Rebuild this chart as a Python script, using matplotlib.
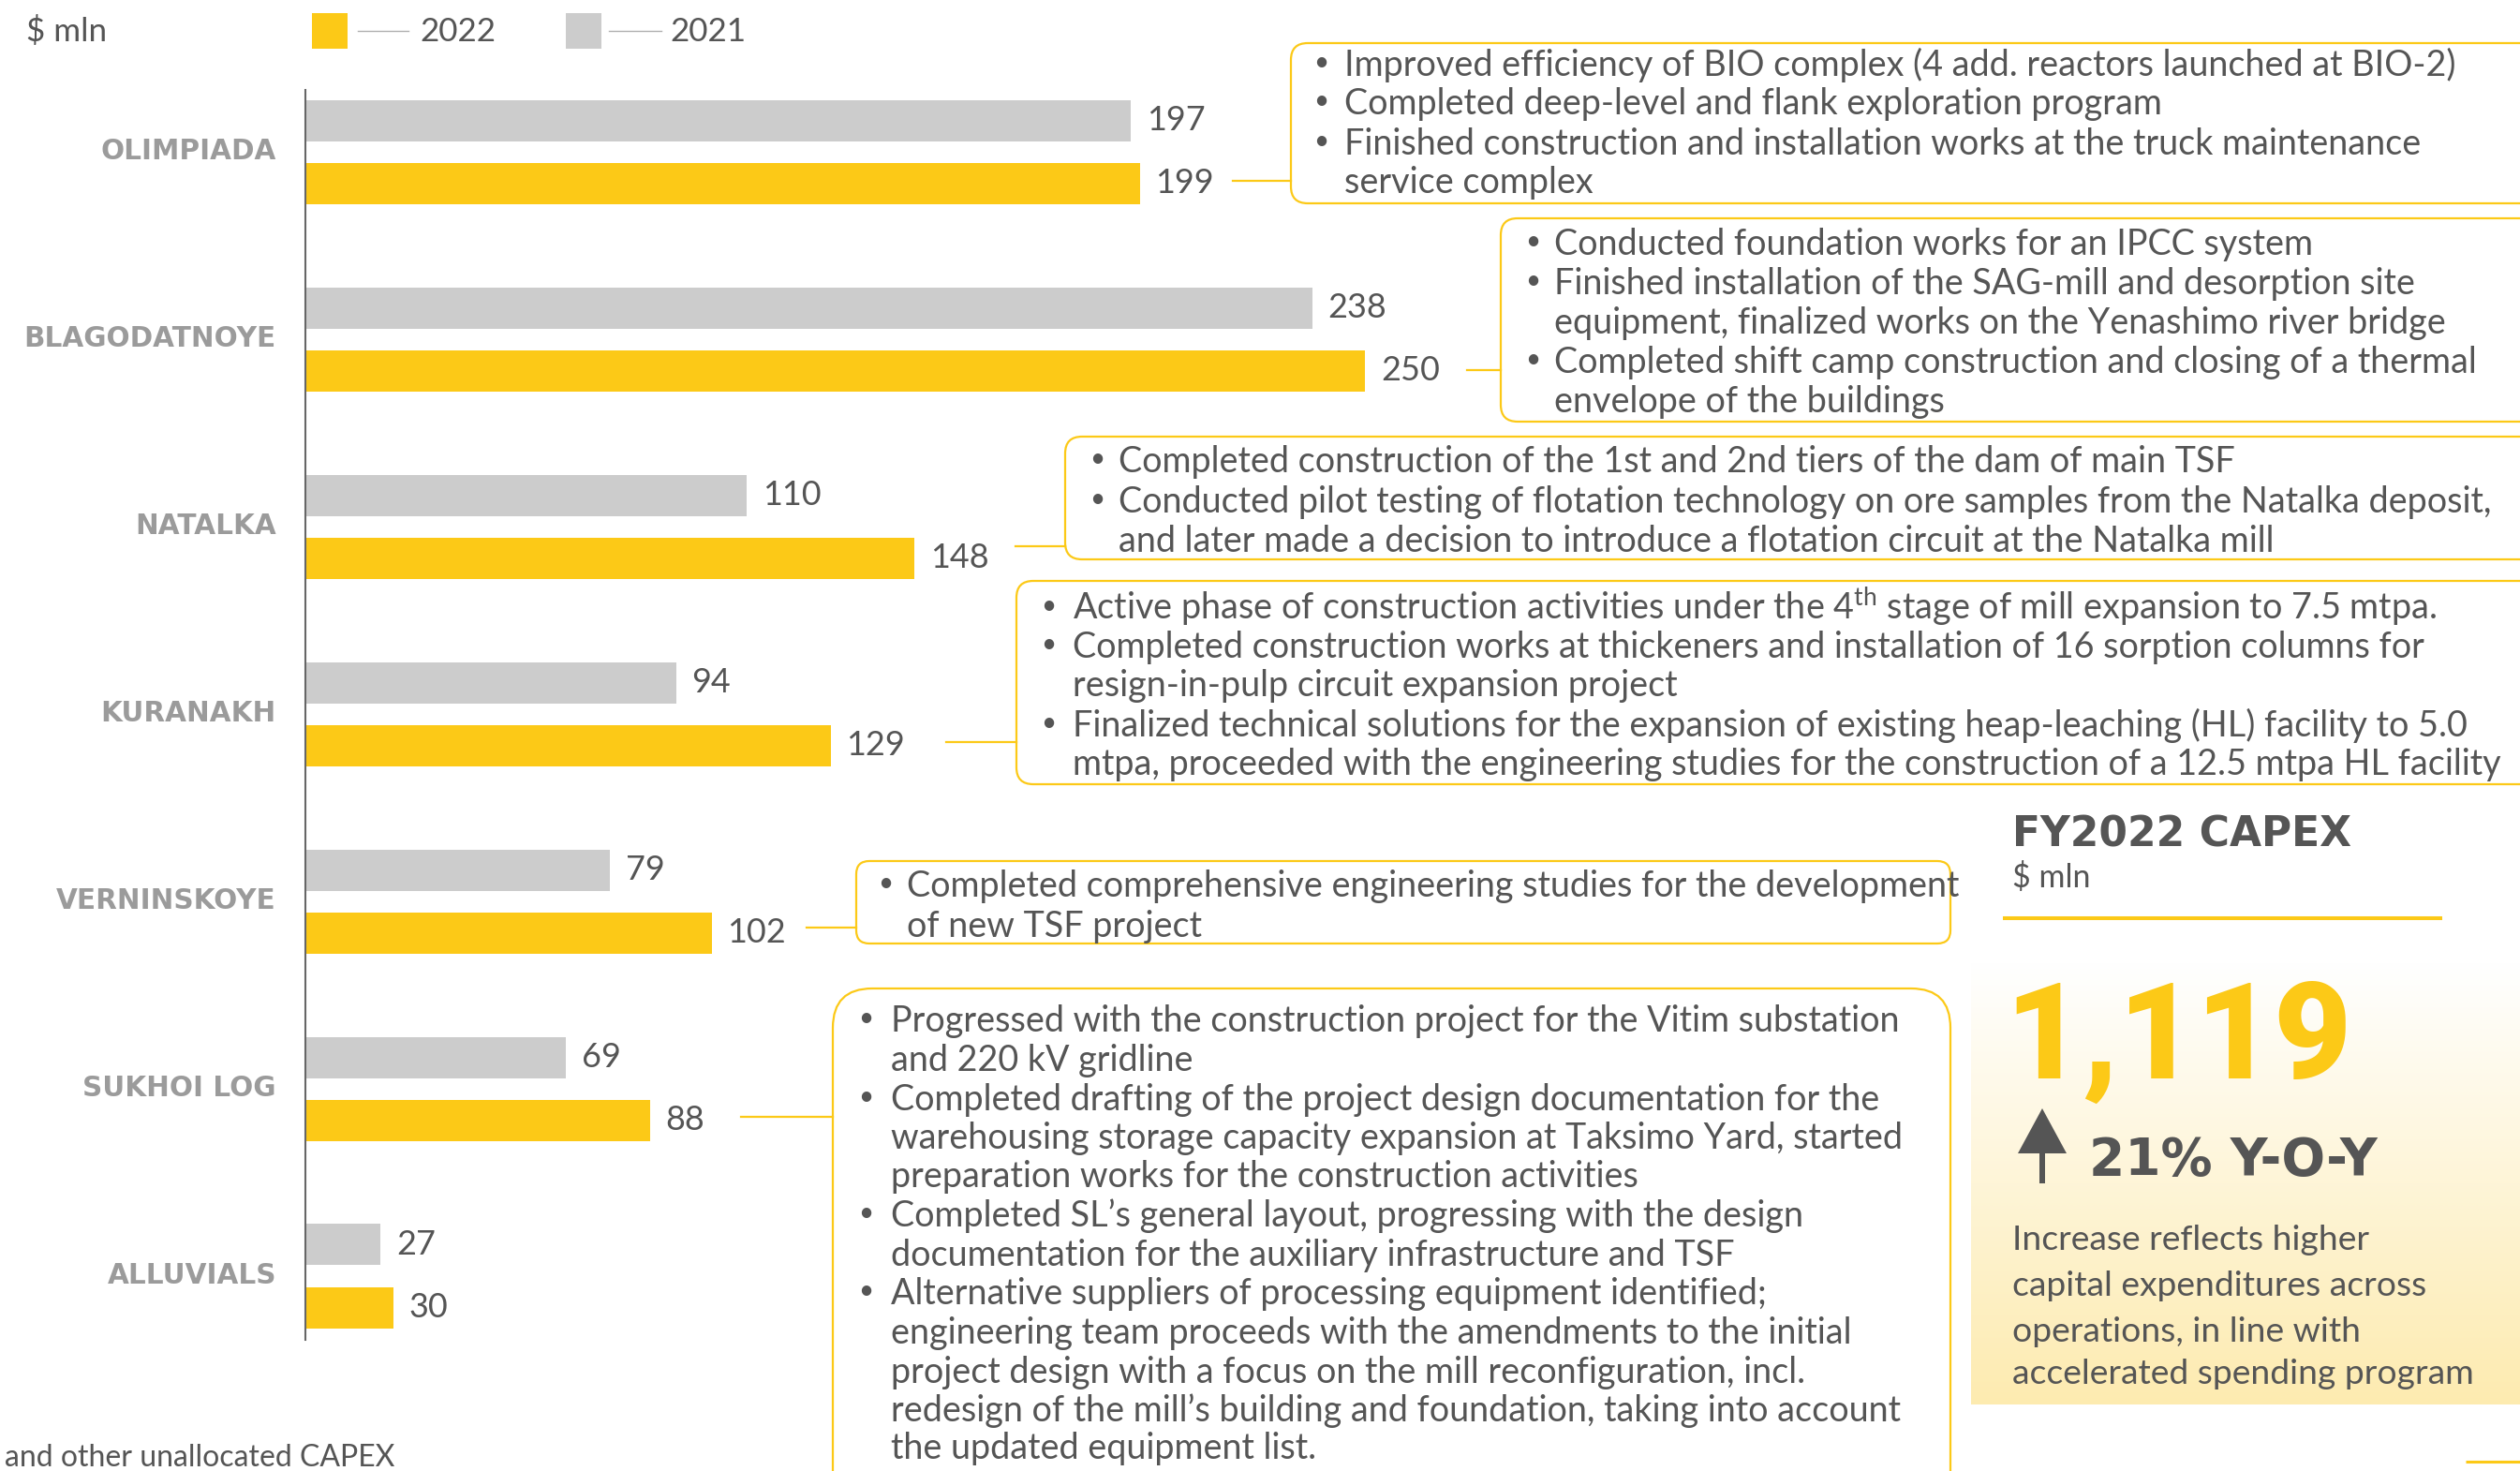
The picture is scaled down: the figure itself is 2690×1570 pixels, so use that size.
import numpy as np
import matplotlib
matplotlib.use("Agg")
import matplotlib.pyplot as plt
from matplotlib.patches import FancyBboxPatch, Rectangle, Polygon

# ---------------- data ----------------
categories = ["OLIMPIADA", "BLAGODATNOYE", "NATALKA", "KURANAKH",
              "VERNINSKOYE", "SUKHOI LOG", "ALLUVIALS"]
capex_2021 = [197, 238, 110, 94, 79, 69, 27]
capex_2022 = [199, 250, 148, 129, 102, 88, 30]
series_labels = ["2022", "2021"]
unit_label = "$ mln"
total_title = "FY2022 CAPEX"
total_value = "1,119"
yoy_text = "21% Y-O-Y"
total_note = ["Increase reflects higher", "capital expenditures across",
              "operations, in line with", "accelerated spending program"]
footnote = "and other unallocated CAPEX"

notes = [
    [["Improved efficiency of BIO complex (4 add. reactors launched at BIO-2)"],
     ["Completed deep-level and flank exploration program"],
     ["Finished construction and installation works at the truck maintenance",
      "service complex"]],
    [["Conducted foundation works for an IPCC system"],
     ["Finished installation of the SAG-mill and desorption site",
      "equipment, finalized works on the Yenashimo river bridge"],
     ["Completed shift camp construction and closing of a thermal",
      "envelope of the buildings"]],
    [["Completed construction of the 1st and 2nd tiers of the dam of main TSF"],
     ["Conducted pilot testing of flotation technology on ore samples from the Natalka deposit,",
      "and later made a decision to introduce a flotation circuit at the Natalka mill"]],
    [["Active phase of construction activities under the 4$^{\\mathrm{th}}$ stage of mill expansion to 7.5 mtpa."],
     ["Completed construction works at thickeners and installation of 16 sorption columns for",
      "resign-in-pulp circuit expansion project"],
     ["Finalized technical solutions for the expansion of existing heap-leaching (HL) facility to 5.0",
      "mtpa, proceeded with the engineering studies for the construction of a 12.5 mtpa HL facility"]],
    [["Completed comprehensive engineering studies for the development",
      "of new TSF project"]],
    [["Progressed with the construction project for the Vitim substation",
      "and 220 kV gridline"],
     ["Completed drafting of the project design documentation for the",
      "warehousing storage capacity expansion at Taksimo Yard, started",
      "preparation works for the construction activities"],
     ["Completed SL\u2019s general layout, progressing with the design",
      "documentation for the auxiliary infrastructure and TSF"],
     ["Alternative suppliers of processing equipment identified;",
      "engineering team proceeds with the amendments to the initial",
      "project design with a focus on the mill reconfiguration, incl.",
      "redesign of the mill\u2019s building and foundation, taking into account",
      "the updated equipment list."]],
]

# ---------------- layout (pixels, from top-left) ----------------
W, H = 2690, 1570
YELLOW = "#FCC917"
GREY_BAR = "#CCCCCC"
TXT = "#555555"
CAT = "#9B9B9B"

# box: x0, y0, x1, y1, radius, bullet_x, text_x, line centres, connector (xa, xb, y)
boxes = [
    (1378, 46, 2720, 217, 18, 1402, 1435, [67, 108, 151, 192], (1316, 1378, 193)),
    (1602, 233, 2720, 450, 18, 1628, 1659, [258, 300, 342, 384, 426], (1566, 1602, 395)),
    (1137, 466, 2720, 597, 18, 1163, 1194, [490, 533, 575], (1084, 1137, 583)),
    (1085, 620, 2720, 837, 18, 1111, 1145, [647, 688, 729, 772, 813], (1010, 1085, 792)),
    (914, 919, 2082, 1007, 14, 937, 968, [943, 986], (861, 914, 990)),
    (889, 1055, 2082, 1620, 42, 916, 951,
     [1087, 1129, 1171, 1212, 1253, 1295, 1337, 1378, 1420, 1462, 1503, 1543],
     (791, 889, 1192)),
]


def P(px):
    return px * 0.72


plt.rcParams['font.family'] = ['Lato', 'DejaVu Sans']
plt.rcParams['mathtext.fontset'] = 'custom'
plt.rcParams['mathtext.rm'] = 'Lato'
plt.rcParams['mathtext.it'] = 'Lato:italic'
plt.rcParams['mathtext.bf'] = 'Lato:bold'

fig = plt.figure(figsize=(W / 100, H / 100), dpi=100)
fig.patch.set_facecolor("white")

# ---------------- bar chart ----------------
ax_left, ax_top, ax_bot = 326, 96, 1430
ax = fig.add_axes([ax_left / W, 1 - ax_bot / H, (W - ax_left) / W, (ax_bot - ax_top) / H])
ax.patch.set_alpha(0)
px_per_unit = 4.713
idx = np.arange(len(categories))
off, bh = 0.1675, 0.22
ax.barh(idx - off, capex_2021, height=bh, color=GREY_BAR, zorder=2)
ax.barh(idx + off, capex_2022, height=bh, color=YELLOW, zorder=2)
ax.set_xlim(10, 10 + (W - ax_left) / px_per_unit)
ax.set_ylim(6.34, -0.33)

for i in idx:
    for v, y in ((capex_2021[i], i - off), (capex_2022[i], i + off)):
        ax.annotate(str(v), xy=(v, y), xytext=(12, 0), textcoords="offset points",
                    ha="left", va="center", fontsize=P(36), color=TXT)

ax.set_yticks(idx - 0.015, categories)
ax.set_xticks([])
ax.tick_params(axis="y", length=0, pad=P(31))
for lbl in ax.get_yticklabels():
    lbl.set_fontfamily("DejaVu Sans")
    lbl.set_fontweight("bold")
    lbl.set_fontsize(P(29.5))
    lbl.set_color(CAT)
for s in ("top", "right", "bottom"):
    ax.spines[s].set_visible(False)
ax.spines["left"].set_color("#666666")
ax.spines["left"].set_linewidth(1.5)

# ---------------- overlay (pixel coordinates) ----------------
ov = fig.add_axes([0, 0, 1, 1], zorder=10)
ov.patch.set_alpha(0)

# gradient panel
g = np.linspace(0, 1, 256)[:, None, None]
top_c = np.array([1.0, 1.0, 1.0])
bot_c = np.array([253, 235, 176]) / 255
img = top_c * (1 - g) + bot_c * g
ov.imshow(img, extent=[2104, 2700, 1499, 1027], aspect="auto", zorder=0,
          interpolation="bilinear")
ov.set_xlim(0, W)
ov.set_ylim(H, 0)
ov.axis("off")

# legend
leg_base = 44
for (sx, lx0, lx1, tx), col, lab in zip([(333, 382, 436, 448), (604, 650, 706, 715)],
                                        [YELLOW, GREY_BAR], series_labels):
    ov.add_patch(Rectangle((sx, 14), 38, 38, fc=col, ec="none"))
    ov.plot([lx0, lx1], [33, 33], color="#B0B0B0", lw=1.0)
    ov.text(tx, leg_base, lab, fontsize=P(35), color=TXT, ha="left", va="baseline")
ov.text(28, leg_base, unit_label, fontsize=P(35), color=TXT, ha="left", va="baseline")

# annotation boxes
ann_texts = []
ann_size = P(34)
for (x0, y0, x1, y1, r, bx, tx, ys, (ca, cb, cy)), bullets in zip(boxes, notes):
    ov.add_patch(FancyBboxPatch((x0, y0), x1 - x0, y1 - y0,
                                boxstyle=f"round,pad=0,rounding_size={r}",
                                fc="none", ec=YELLOW, lw=1.6, zorder=3))
    ov.plot([ca, cb], [cy, cy], color=YELLOW, lw=1.6, zorder=3)
    k = 0
    for b in bullets:
        for j, line in enumerate(b):
            yc = ys[k]
            if j == 0:
                ov.text(bx, yc, "\u2022", fontsize=P(28), color=TXT, ha="left",
                        va="center", zorder=4)
            t = ov.text(tx, yc, line, fontsize=ann_size, color=TXT, ha="left",
                        va="baseline", zorder=4)
            ann_texts.append((t, yc))
            k += 1

# right panel
ov.text(2148, 903, total_title, fontfamily="DejaVu Sans", fontweight="bold",
        fontsize=P(44), color=TXT, ha="left", va="baseline")
ov.text(2148, 947, unit_label, fontsize=P(34), color=TXT, ha="left", va="baseline")
ov.plot([2138, 2607], [980, 980], color=YELLOW, lw=2.9, solid_capstyle="butt")
big = ov.text(2140, 1151, total_value, fontfamily=["Roboto", "DejaVu Sans"],
              fontweight="black", fontsize=P(160), color=YELLOW, ha="left",
              va="baseline")
ov.add_patch(Polygon([[2154, 1231], [2206, 1231], [2180, 1183]], closed=True,
                     fc=TXT, ec="none"))
ov.add_patch(Rectangle((2177, 1229), 6, 34, fc=TXT, ec="none"))
ov.text(2230, 1254, yoy_text, fontfamily="DejaVu Sans", fontweight="bold",
        fontsize=P(55), color=TXT, ha="left", va="baseline")
note_texts = []
for yc, line in zip([1321, 1370, 1419, 1464], total_note):
    t = ov.text(2148, yc, line, fontsize=P(34), color=TXT, ha="left", va="baseline")
    note_texts.append((t, yc))
ov.plot([2632, 2700], [1560, 1560], color=YELLOW, lw=2.2, solid_capstyle="butt")

ov.text(5, 1565, footnote, fontsize=P(32), color=TXT, ha="left", va="baseline")

# ---- fit text sizes to the measured widths of the reference ----
renderer = fig.canvas.get_renderer()


def fit(group, ref_index, target_px):
    t0 = group[ref_index][0]
    w = t0.get_window_extent(renderer).width
    scale = target_px / w
    for t, yc in group:
        fs = t.get_fontsize() * scale
        t.set_fontsize(fs)
        t.set_y(yc + 0.36 * fs / 0.72)


fit(ann_texts, 0, 1186)
fit(note_texts, 3, 492)

# big number: limit width to the reference width
wb = big.get_window_extent(renderer).width
if wb > 370:
    big.set_fontsize(big.get_fontsize() * 370 / wb)

fig.savefig("out.png", dpi=100, facecolor="white")
